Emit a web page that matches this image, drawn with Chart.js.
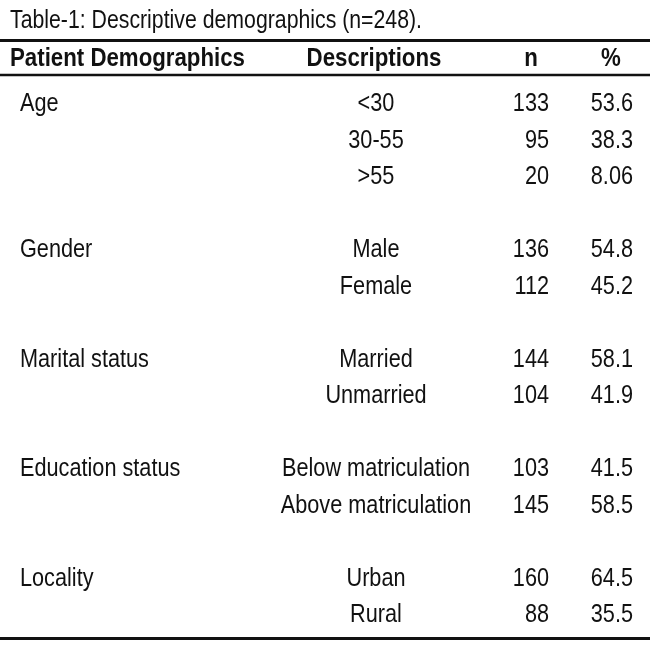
<!DOCTYPE html>
<html>
<head>
<meta charset="utf-8">
<script src="https://cdn.jsdelivr.net/npm/chart.js@4/dist/chart.umd.min.js"></script>
<style>
  html, body { margin: 0; padding: 0; background: #fff; }
  #wrap { width: 650px; height: 649px; position: relative; }
</style>
</head>
<body>
<div id="wrap"><canvas id="table-chart"></canvas></div>
<script>
// table content, one entry per body row ("" / null = spacer row)
const titleText = "Table-1: Descriptive demographics (n=248).";
const headers = ["Patient Demographics", "Descriptions", "n", "%"];
const characteristics = ["Age", "", "", "", "Gender", "", "", "Marital status", "", "", "Education status", "", "", "Locality", ""];
const descriptions = ["<30", "30-55", ">55", "", "Male", "Female", "", "Married", "Unmarried", "", "Below matriculation", "Above matriculation", "", "Urban", "Rural"];
const counts = [133, 95, 20, null, 136, 112, null, 144, 104, null, 103, 145, null, 160, 88];
const percents = [53.6, 38.3, 8.06, null, 54.8, 45.2, null, 58.1, 41.9, null, 41.5, 58.5, null, 64.5, 35.5];

// layout: x anchors of each column (x scale units) and text alignment
const colX = [20, 376, 549, 633];
const colAlign = ["left", "center", "right", "right"];
const headX = [10, 374, 531, 611];
const headAlign = ["left", "center", "center", "center"];

const fontFamily = "'Liberation Sans Narrow', 'Liberation Sans', Arial, sans-serif";

function cellPoints(values, col) {
  const pts = [];
  values.forEach(function(v, i) {
    if (v !== null && v !== "") pts.push({ x: colX[col], y: i, label: String(v) });
  });
  return pts;
}

function condensed(ctx, text, x, y, k) {
  ctx.save();
  ctx.translate(x, y);
  ctx.scale(k, 1);
  ctx.fillText(text, 0, 0);
  ctx.restore();
}

const tablePlugin = {
  id: "tablePlugin",
  afterDatasetsDraw(chart) {
    const ctx = chart.ctx;
    const area = chart.chartArea;
    const y = chart.scales.y;
    const x = chart.scales.x;

    ctx.save();
    ctx.fillStyle = "#111";
    ctx.textBaseline = "alphabetic";

    // squeeze the fonts to the condensed face of the original
    const titleFont = "25px " + fontFamily;
    const headFont = "bold 25px " + fontFamily;
    const bodyFont = "25px " + fontFamily;
    ctx.font = titleFont;
    const kt = 412 / ctx.measureText(titleText).width;
    ctx.font = headFont;
    const kh = 235 / ctx.measureText(headers[0]).width;
    ctx.font = bodyFont;
    const kb = 188 / ctx.measureText(descriptions[10]).width;

    // rules
    ctx.strokeStyle = "#111";
    [[-1.685, 3], [-0.74, 2.5], [14.70, 3]].forEach(function(r) {
      ctx.lineWidth = r[1];
      ctx.beginPath();
      ctx.moveTo(area.left, y.getPixelForValue(r[0]));
      ctx.lineTo(area.right, y.getPixelForValue(r[0]));
      ctx.stroke();
    });

    // title
    ctx.font = titleFont;
    ctx.textAlign = "left";
    condensed(ctx, titleText, x.getPixelForValue(10), y.getPixelForValue(-2.03), kt);

    // header row
    ctx.font = headFont;
    headers.forEach(function(h, i) {
      ctx.textAlign = headAlign[i];
      condensed(ctx, h, x.getPixelForValue(headX[i]), y.getPixelForValue(-0.98), kh);
    });

    // body cells, placed at the dataset points
    ctx.font = bodyFont;
    chart.data.datasets.forEach(function(ds, di) {
      const meta = chart.getDatasetMeta(di);
      ctx.textAlign = colAlign[di];
      meta.data.forEach(function(pt, i) {
        condensed(ctx, ds.data[i].label, pt.x, pt.y + 9, kb);
      });
    });
    ctx.restore();
  }
};

const chart = new Chart(document.getElementById("table-chart").getContext("2d"), {
  type: "scatter",
  data: {
    datasets: [
      { label: headers[0], data: cellPoints(characteristics, 0), pointRadius: 0 },
      { label: headers[1], data: cellPoints(descriptions, 1), pointRadius: 0 },
      { label: headers[2], data: cellPoints(counts, 2), pointRadius: 0 },
      { label: headers[3], data: cellPoints(percents, 3), pointRadius: 0 }
    ]
  },
  options: {
    responsive: true,
    maintainAspectRatio: false,
    animation: false,
    events: [],
    layout: { padding: 0 },
    plugins: { legend: { display: false }, tooltip: { enabled: false } },
    scales: {
      x: { type: "linear", display: false, min: 0, max: 650 },
      y: { type: "linear", display: false, reverse: true, min: -2.795, max: 14.986 }
    }
  },
  plugins: [tablePlugin]
});
</script>
</body>
</html>
